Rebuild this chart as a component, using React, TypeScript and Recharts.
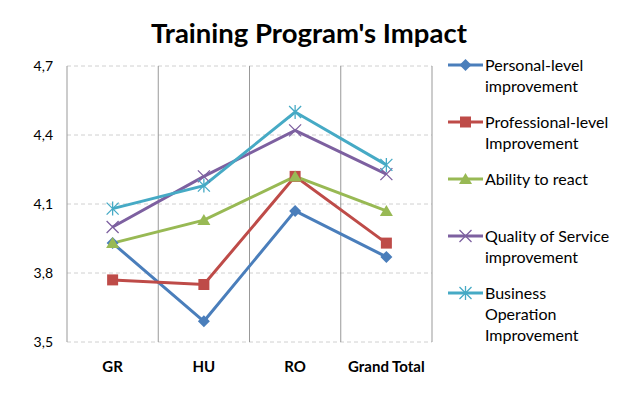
import React from "react";
import {
  LineChart,
  Line,
  XAxis,
  YAxis,
  CartesianGrid,
  ReferenceLine,
} from "recharts";

const categories = ["GR", "HU", "RO", "Grand Total"];
const personal = [3.93, 3.59, 4.07, 3.87];
const professional = [3.77, 3.75, 4.22, 3.93];
const ability = [3.93, 4.03, 4.22, 4.07];
const quality = [4.0, 4.22, 4.42, 4.23];
const business = [4.08, 4.18, 4.5, 4.27];
const yTicks = [3.5, 3.8, 4.1, 4.4, 4.7];

const FONT = "Lato, 'Open Sans', sans-serif";

type Shape = "diamond" | "square" | "triangle" | "x" | "star";

const series: { key: string; name: string; color: string; shape: Shape; values: number[] }[] = [
  { key: "personal", name: "Personal-level\nimprovement", color: "#4A7EBB", shape: "diamond", values: personal },
  { key: "professional", name: "Professional-level\nImprovement", color: "#BE4B48", shape: "square", values: professional },
  { key: "ability", name: "Ability to react", color: "#98B954", shape: "triangle", values: ability },
  { key: "quality", name: "Quality of Service\nimprovement", color: "#7D60A0", shape: "x", values: quality },
  { key: "business", name: "Business\nOperation\nImprovement", color: "#46AAC5", shape: "star", values: business },
];

const data = categories.map((c, i) => {
  const row: Record<string, number | string> = { x: i + 0.5, cat: c };
  series.forEach((s) => {
    row[s.key] = s.values[i];
  });
  return row;
});

function Marker({ shape, color, cx, cy }: { shape: Shape; color: string; cx: number; cy: number }) {
  if (shape === "diamond")
    return <path d={`M${cx},${cy - 6}L${cx + 6},${cy}L${cx},${cy + 6}L${cx - 6},${cy}Z`} fill={color} />;
  if (shape === "square")
    return <rect x={cx - 5.5} y={cy - 5.5} width={11} height={11} fill={color} />;
  if (shape === "triangle")
    return <path d={`M${cx},${cy - 6}L${cx + 6.5},${cy + 5}L${cx - 6.5},${cy + 5}Z`} fill={color} />;
  if (shape === "x")
    return (
      <path
        d={`M${cx - 6},${cy - 6}L${cx + 6},${cy + 6}M${cx + 6},${cy - 6}L${cx - 6},${cy + 6}`}
        stroke={color}
        strokeWidth={1.3}
        fill="none"
      />
    );
  return (
    <path
      d={`M${cx - 6},${cy - 6}L${cx + 6},${cy + 6}M${cx + 6},${cy - 6}L${cx - 6},${cy + 6}M${cx},${cy - 7}L${cx},${cy + 7}`}
      stroke={color}
      strokeWidth={1.3}
      fill="none"
    />
  );
}

function Legendish() {
  return (
    <div style={{ position: "absolute", left: 448, top: 54, width: 170, fontFamily: FONT }}>
      {series.map((s) => (
        <div key={s.key} style={{ height: 57, display: "flex", alignItems: "flex-start" }}>
          <svg width={37} height={21} style={{ flex: "none" }}>
            <line x1={0} y1={11} x2={35} y2={11} stroke={s.color} strokeWidth={3} />
            <Marker shape={s.shape} color={s.color} cx={17.5} cy={11} />
          </svg>
          <div style={{ whiteSpace: "pre-line", fontSize: 16, lineHeight: "21px", color: "#000" }}>
            {s.name}
          </div>
        </div>
      ))}
    </div>
  );
}

export default function App() {
  return (
    <div style={{ position: "absolute", left: 0, top: 0, width: 618, height: 399, background: "#fff" }}>
      <div
        style={{
          position: "absolute",
          left: 0,
          top: 17,
          width: 618,
          textAlign: "center",
          fontFamily: FONT,
          fontWeight: "bold",
          fontSize: 27.5,
          lineHeight: "32px",
          color: "#000",
        }}
      >
        Training Program's Impact
      </div>
      <LineChart
        width={618}
        height={399}
        data={data}
        margin={{ top: 66, right: 186, bottom: 0, left: 0 }}
        style={{ fontFamily: FONT }}
      >
        <CartesianGrid vertical={false} stroke="#D0D0D0" strokeDasharray="4 3" />
        <XAxis
          type="number"
          dataKey="x"
          domain={[0, categories.length]}
          ticks={categories.map((_, i) => i + 0.5)}
          tickFormatter={(v: number) => categories[Math.floor(v)]}
          axisLine={false}
          tickLine={false}
          tickSize={0}
          tickMargin={19}
          height={57}
          tick={{ fill: "#000", fontSize: 15, fontWeight: "bold" }}
        />
        <YAxis
          domain={[3.5, 4.7]}
          ticks={yTicks}
          tickFormatter={(v: number) => v.toFixed(1).replace(".", ",")}
          width={67}
          axisLine={{ stroke: "#999999" }}
          tickLine={false}
          tickSize={0}
          tickMargin={14}
          tick={{ fill: "#000", fontSize: 14 }}
        />
        {categories.map((_, i) => (
          <ReferenceLine key={i} x={i + 1} stroke="#999999" strokeWidth={1} />
        ))}
        {series.map((s) => (
          <Line
            key={s.key}
            dataKey={s.key}
            stroke={s.color}
            strokeWidth={3}
            isAnimationActive={false}
            dot={(p: any) => (
              <Marker key={`${s.key}-${p.index}`} shape={s.shape} color={s.color} cx={p.cx} cy={p.cy} />
            )}
            activeDot={false}
          />
        ))}
      </LineChart>
      <Legendish />
    </div>
  );
}
